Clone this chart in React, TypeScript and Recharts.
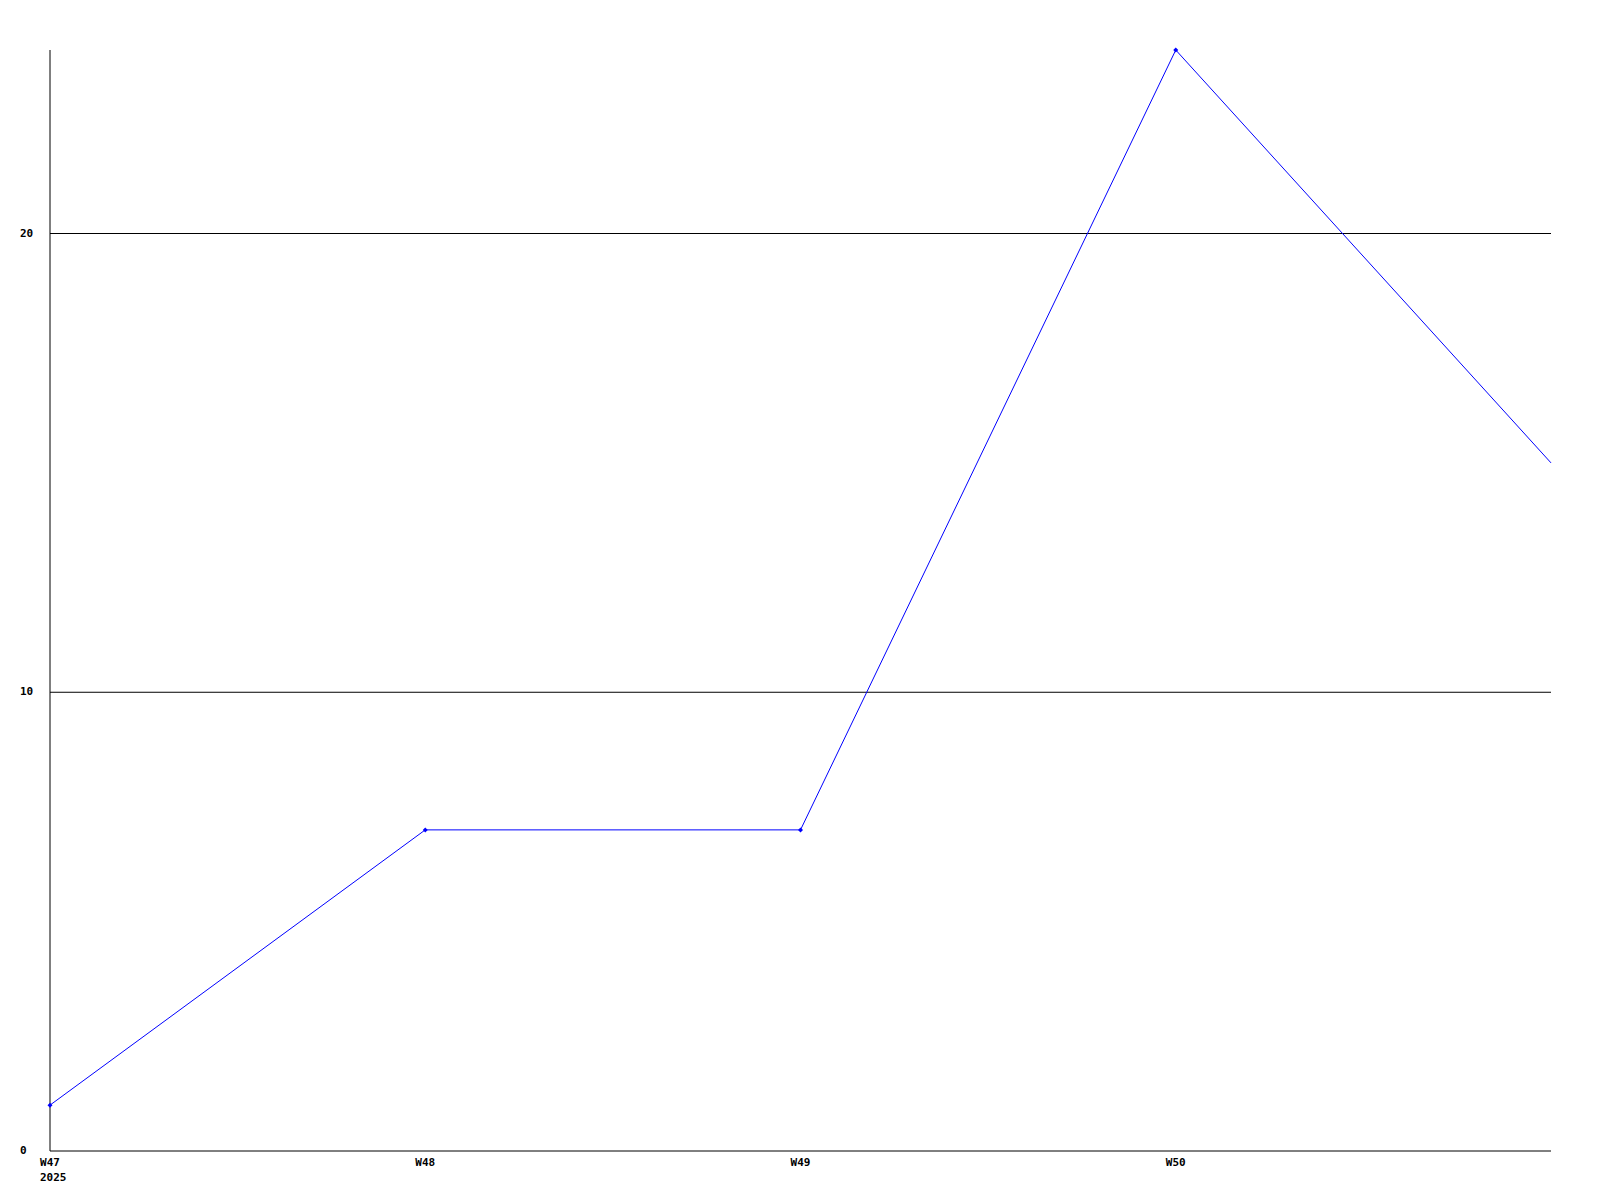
import { LineChart, Line, XAxis, YAxis, ReferenceLine } from "recharts";

const weekLabels = ["W47", "W48", "W49", "W50", "W51"];
const yearLabels = ["2025", "", "", "", ""];
const values = [1, 7, 7, 24, 15];
const yTicks = [0, 10, 20];
const xTicks = [0, 1, 2, 3];

const data = values.map((v, i) => ({ idx: i, value: v }));

const font = { fontFamily: "'DejaVu Sans Mono', monospace", fontSize: 11, fontWeight: 700 };

function XTick(props: any) {
  const { x, y, payload } = props;
  const i = payload.value as number;
  return (
    <g>
      <text x={x} y={y + 4} textAnchor="middle" dominantBaseline="middle" fill="#000" style={font}>
        {weekLabels[i]}
      </text>
      {yearLabels[i] && (
        <text x={x - 10} y={y + 19} textAnchor="start" dominantBaseline="middle" fill="#000" style={font}>
          {yearLabels[i]}
        </text>
      )}
    </g>
  );
}

function YTick(props: any) {
  const { y, payload } = props;
  return (
    <text x={20} y={y} textAnchor="start" dominantBaseline="middle" fill="#000" style={font}>
      {payload.value}
    </text>
  );
}

function Marker(props: any) {
  const { cx, cy, index } = props;
  if (index === values.length - 1) return <g key={index} />;
  return <path key={index} d={`M${cx - 2.5},${cy} L${cx},${cy - 2.5} L${cx + 2.5},${cy} L${cx},${cy + 2.5} Z`} fill="#0000ff" />;
}

export default function App() {
  return (
    <div style={{ position: "absolute", left: 0, top: 0, background: "#fff" }}>
      <LineChart width={1600} height={1200} data={data} margin={{ top: 50, right: 49, bottom: 0, left: 0 }}>
        <XAxis
          dataKey="idx"
          type="number"
          domain={[0, 4]}
          ticks={xTicks}
          height={49}
          tickLine={false}
          axisLine={{ stroke: "#000", strokeWidth: 1 }}
          tick={<XTick />}
          interval={0}
        />
        <YAxis
          type="number"
          domain={[0, 24]}
          ticks={yTicks}
          width={50}
          tickLine={false}
          axisLine={{ stroke: "#000", strokeWidth: 1 }}
          tick={<YTick />}
          interval={0}
        />
        {[10, 20].map((v) => (
          <ReferenceLine key={v} y={v} stroke="#000" strokeWidth={1} />
        ))}
        <Line
          type="linear"
          dataKey="value"
          stroke="#0000ff"
          strokeWidth={1}
          dot={<Marker />}
          activeDot={false}
          isAnimationActive={false}
        />
      </LineChart>
    </div>
  );
}
